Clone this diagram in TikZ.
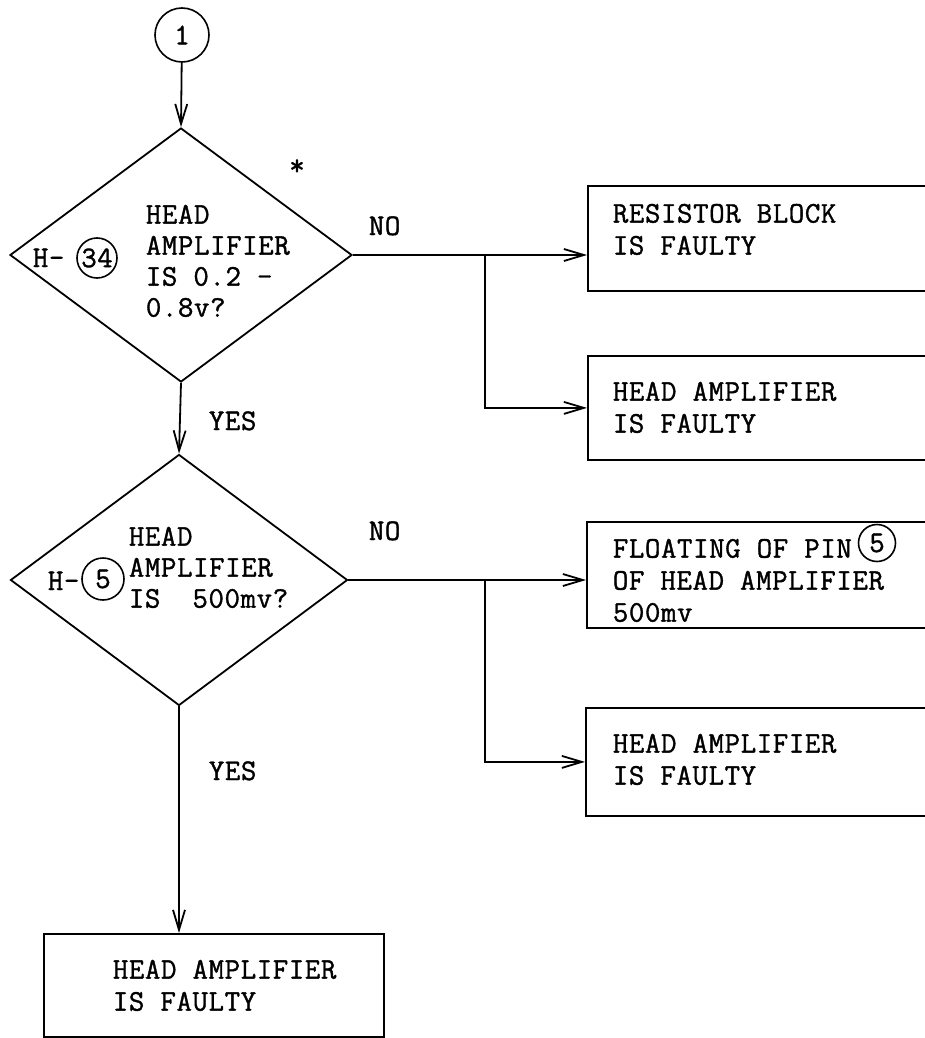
\documentclass[tikz,border=0pt]{standalone}
\usepackage{fontspec}
\newfontfamily\tw{Latin Modern Mono}[LetterSpace=2,FakeBold=1.2]
\usetikzlibrary{shapes.geometric,arrows.meta}
\begin{document}
\begin{tikzpicture}[x=1pt,y=-1pt,line width=1.8pt,
  every node/.style={font=\tw\fontsize{30}{32}\selectfont,inner sep=0pt},
  decision/.style={diamond,draw},
  outbox/.style={rectangle,draw,anchor=north west},
  txt/.style={anchor=north west,align=left},
  dtxt/.style={anchor=north west,align=left,font=\tw\fontsize{30}{31}\selectfont},
  lbl/.style={anchor=base west},
  conn/.style={circle,draw,line width=1.6pt},
  arr/.style={-{Straight Barb[length=20pt,width=12pt]}}]
\useasboundingbox (0,0) rectangle (924,1038);

% connector circle
\node[conn,minimum size=54pt] (c1) at (182,35) {1};

% decisions
\node[decision,minimum width=342pt,minimum height=254pt] (d1) at (181,255) {};
\node[decision,minimum width=337pt,minimum height=251pt] (d2) at (179,580) {};

\node[dtxt] (t1) at (145,204) {HEAD\\AMPLIFIER\\IS 0.2 -\\0.8v?};
\node[lbl] (h1) at (32,267) {H-};
\node[conn,minimum size=40pt] (p34) at (97,258) {34};
\node[anchor=base] (star) at (297,175) {*};

\node[dtxt] (t2) at (128,526) {HEAD\\AMPLIFIER\\IS~~500mv?};
\node[lbl] (h2) at (47,590) {H-};
\node[conn,minimum size=42pt] (p5a) at (103,579) {5};

% boxes
\node[outbox,minimum width=343pt,minimum height=105pt] (b1) at (587,185) {};
\node[outbox,minimum width=343pt,minimum height=104pt] (b2) at (587,355) {};
\node[outbox,minimum width=344pt,minimum height=106pt] (b3) at (586,521) {};
\node[outbox,minimum width=345pt,minimum height=108pt] (b4) at (585,707) {};
\node[outbox,minimum width=340pt,minimum height=103pt] (b5) at (43,933) {};

\node[txt] (bt1) at (612,203) {RESISTOR BLOCK\\IS FAULTY};
\node[txt] (bt2) at (612,381) {HEAD AMPLIFIER\\IS FAULTY};
\node[txt] (bt3) at (612,538) {FLOATING OF PIN\\OF HEAD AMPLIFIER\\500mv};
\node[conn,minimum size=37pt] (p5b) at (877,543) {5};
\node[txt] (bt4) at (612,733) {HEAD AMPLIFIER\\IS FAULTY};
\node[txt] (bt5) at (112,959) {HEAD AMPLIFIER\\IS FAULTY};

% labels
\node[lbl] (no1) at (368,235) {NO};
\node[lbl] (no2) at (368,540) {NO};
\node[lbl] (yes1) at (208,430) {YES};
\node[lbl] (yes2) at (208,780) {YES};

% connectors
\coordinate (xj) at (485,0);
\coordinate (j1) at (d1.east -| xj);
\coordinate (j2) at (d2.east -| xj);

\draw[arr] (c1) -- (d1.north);
\draw[arr] (d1.south) -- (d2.north);
\draw[arr] (d1.east) -- (d1.east -| b1.west);
\draw[arr] (j1) |- (b2.west);
\draw[arr] (d2.east) -- (d2.east -| b3.west);
\draw[arr] (j2) |- (b4.west);
\draw[arr] (d2.south) -- (d2.south |- b5.north);
\end{tikzpicture}
\end{document}
